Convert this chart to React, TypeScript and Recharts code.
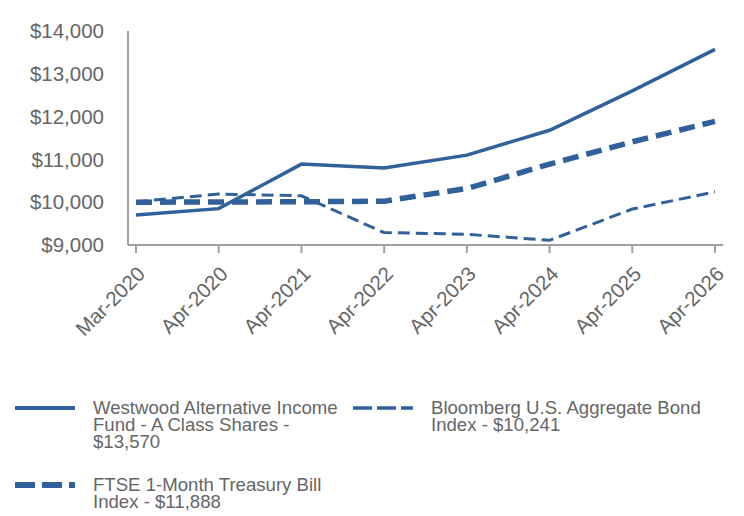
import React from "react";
import { LineChart, Line, XAxis, YAxis } from "recharts";

const periods = [
  "Mar-2020",
  "Apr-2020",
  "Apr-2021",
  "Apr-2022",
  "Apr-2023",
  "Apr-2024",
  "Apr-2025",
  "Apr-2026",
];
const fundValues = [9700, 9850, 10890, 10800, 11100, 11680, 12600, 13570];
const bondValues = [10010, 10190, 10150, 9290, 9250, 9110, 9840, 10241];
const tbillValues = [10000, 10005, 10010, 10025, 10320, 10890, 11410, 11888];
const yTicks = [9000, 10000, 11000, 12000, 13000, 14000];

const fundName = "Westwood Alternative Income Fund - A Class Shares - $13,570";
const bondName = "Bloomberg U.S. Aggregate Bond Index - $10,241";
const tbillName = "FTSE 1-Month Treasury Bill Index - $11,888";

const data = periods.map((p, i) => ({
  period: p,
  fund: fundValues[i],
  bond: bondValues[i],
  tbill: tbillValues[i],
}));

const BLUE = "#31619a";
const GREY = "#666666";
const AXIS = "#a0a0a0";
const FONT = "'Liberation Sans', Arial, sans-serif";

const fmt = (v: number) => "$" + v.toLocaleString("en-US");

type Item = { name: string; width: number; dash?: string; x: number; y: number; textW: number };

const legendItems: Item[] = [
  { name: fundName, width: 4, x: 15, y: 399, textW: 258 },
  { name: bondName, width: 3.5, dash: "19 5", x: 353, y: 399, textW: 300 },
  { name: tbillName, width: 6, dash: "20 7", x: 15, y: 476, textW: 258 },
];

function LegendItem({ item }: { item: Item }) {
  return (
    <div style={{ position: "absolute", left: item.x, top: item.y, display: "flex" }}>
      <svg width={60} height={18} style={{ marginRight: 18, flexShrink: 0 }}>
        <line
          x1={0}
          y1={9}
          x2={60}
          y2={9}
          stroke={BLUE}
          strokeWidth={item.width}
          strokeDasharray={item.dash}
        />
      </svg>
      <div style={{ width: item.textW, fontSize: 18.6, lineHeight: "17px", color: GREY }}>
        {item.name}
      </div>
    </div>
  );
}

export default function App() {
  return (
    <div
      style={{
        position: "absolute",
        left: 0,
        top: 0,
        width: 744,
        height: 516,
        background: "#fff",
        fontFamily: FONT,
      }}
    >
      <LineChart
        width={744}
        height={360}
        data={data}
        margin={{ top: 31, right: 21, left: 0, bottom: 0 }}
      >
        <XAxis
          dataKey="period"
          height={115}
          padding={{ left: 8, right: 8 }}
          stroke={AXIS}
          strokeWidth={2}
          tickSize={8}
          tickMargin={12}
          interval={0}
          angle={-45}
          textAnchor="end"
          tick={{ fill: GREY, fontSize: 20.5 }}
        />
        <YAxis
          width={128}
          domain={[9000, 14000]}
          ticks={yTicks}
          tickFormatter={fmt}
          stroke={AXIS}
          strokeWidth={2}
          tickLine={false}
          tickMargin={18}
          tick={{ fill: GREY, fontSize: 20.5 }}
        />
        <Line
          dataKey="fund"
          stroke={BLUE}
          strokeWidth={3.5}
          dot={false}
          isAnimationActive={false}
        />
        <Line
          dataKey="bond"
          stroke={BLUE}
          strokeWidth={3}
          strokeDasharray="12 6"
          dot={false}
          isAnimationActive={false}
        />
        <Line
          dataKey="tbill"
          stroke={BLUE}
          strokeWidth={5.5}
          strokeDasharray="16 8"
          dot={false}
          isAnimationActive={false}
        />
      </LineChart>
      {legendItems.map((it) => (
        <LegendItem key={it.name} item={it} />
      ))}
    </div>
  );
}
